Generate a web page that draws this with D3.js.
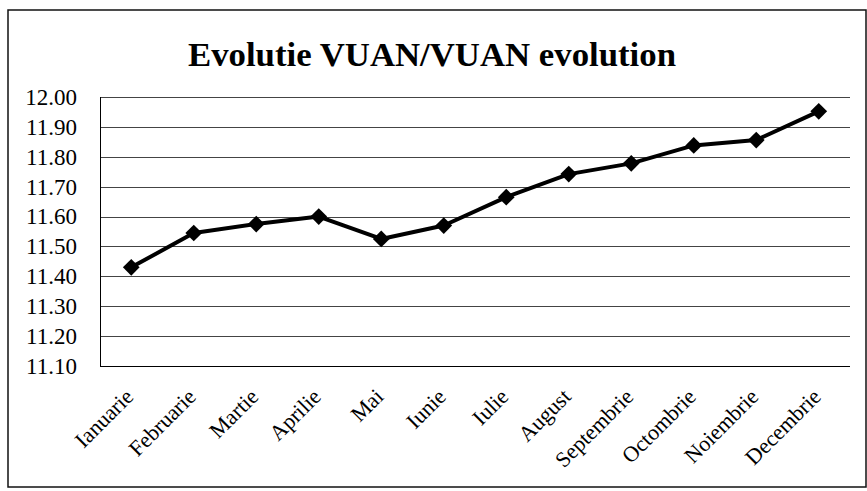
<!DOCTYPE html>
<html>
<head>
    <meta charset="utf-8">
    <title>Evolutie VUAN</title>
    <script src="https://d3js.org/d3.v7.min.js"></script>
    <style>
        body { margin: 0; background: #fff; }
    </style>
</head>
<body>
<div id="chart"></div>
<script type="text/javascript">
    // luni si valori VUAN
    let months = ["Ianuarie", "Februarie", "Martie", "Aprilie", "Mai", "Iunie",
                  "Iulie", "August", "Septembrie", "Octombrie", "Noiembrie", "Decembrie"];
    let vuan = [11.43, 11.545, 11.575, 11.60, 11.525, 11.57,
                11.665, 11.742, 11.778, 11.838, 11.856, 11.952];
    let yTicks = [11.10, 11.20, 11.30, 11.40, 11.50, 11.60, 11.70, 11.80, 11.90, 12.00];

    let W = 867, H = 491;
    let margin = {top: 97, right: 17, bottom: 125, left: 100};
    let w = W - margin.left - margin.right;
    let h = H - margin.top - margin.bottom;
    let serif = "'Liberation Serif', 'Times New Roman', serif";

    let svg = d3.select("#chart")
        .append("svg")
            .attr("width", W)
            .attr("height", H)
            .style("font-family", serif);

    // chenar exterior
    svg.append("rect")
        .attr("x", 8).attr("y", 10)
        .attr("width", W - 9).attr("height", H - 14)
        .attr("fill", "none")
        .attr("stroke", "#111")
        .attr("stroke-width", 1.5);

    svg.append("text")
        .attr("x", 432)
        .attr("y", 66)
        .attr("text-anchor", "middle")
        .attr("font-size", "33px")
        .attr("font-weight", "bold")
        .attr("textLength", 488)
        .attr("lengthAdjust", "spacingAndGlyphs")
        .text("Evolutie VUAN/VUAN evolution");

    let g = svg.append("g")
        .attr("transform", "translate(" + margin.left + "," + margin.top + ")");

    let xScale = d3.scalePoint()
        .domain(months)
        .range([0, w])
        .padding(0.5);

    let yScale = d3.scaleLinear()
        .domain([11.10, 12.00])
        .range([h, 0]);

    // linii de grila
    g.selectAll(".grid")
        .data(yTicks)
        .enter()
        .append("line")
        .attr("x1", 0)
        .attr("x2", w)
        .attr("y1", d => Math.round(yScale(d)) + 0.5)
        .attr("y2", d => Math.round(yScale(d)) + 0.5)
        .attr("stroke", d => d === 11.10 ? "#000" : "#444")
        .attr("stroke-width", 1);

    g.append("line")
        .attr("x1", 0.5).attr("x2", 0.5)
        .attr("y1", 0).attr("y2", h)
        .attr("stroke", "#000");

    let yAxis = d3.axisLeft(yScale)
        .tickValues(yTicks)
        .tickFormat(d3.format(".2f"))
        .tickSize(0)
        .tickPadding(23);

    g.append("g")
        .call(yAxis)
        .call(s => s.select(".domain").remove())
        .selectAll("text")
            .attr("font-family", serif)
            .attr("font-size", "23px")
            .attr("fill", "#000");

    let xAxis = d3.axisBottom(xScale).tickSize(0).tickPadding(0);

    g.append("g")
        .attr("transform", "translate(0," + h + ")")
        .call(xAxis)
        .call(s => s.select(".domain").remove())
        .selectAll("text")
            .attr("font-family", serif)
            .attr("font-size", "22px")
            .attr("fill", "#000")
            .attr("text-anchor", "end")
            .attr("dy", 0)
            .attr("y", 0)
            .attr("transform", "translate(3,32) rotate(-45)");

    let line = d3.line()
        .x((d, i) => xScale(months[i]))
        .y(d => yScale(d));

    g.append("path")
        .datum(vuan)
        .attr("d", line)
        .attr("fill", "none")
        .attr("stroke", "#000")
        .attr("stroke-width", 4)
        .attr("stroke-linejoin", "round");

    g.selectAll(".pt")
        .data(vuan)
        .enter()
        .append("path")
        .attr("d", d3.symbol().type(d3.symbolSquare).size(140))
        .attr("transform", (d, i) => "translate(" + xScale(months[i]) + "," + yScale(d) + ") rotate(45)")
        .attr("fill", "#000");
</script>
</body>
</html>
